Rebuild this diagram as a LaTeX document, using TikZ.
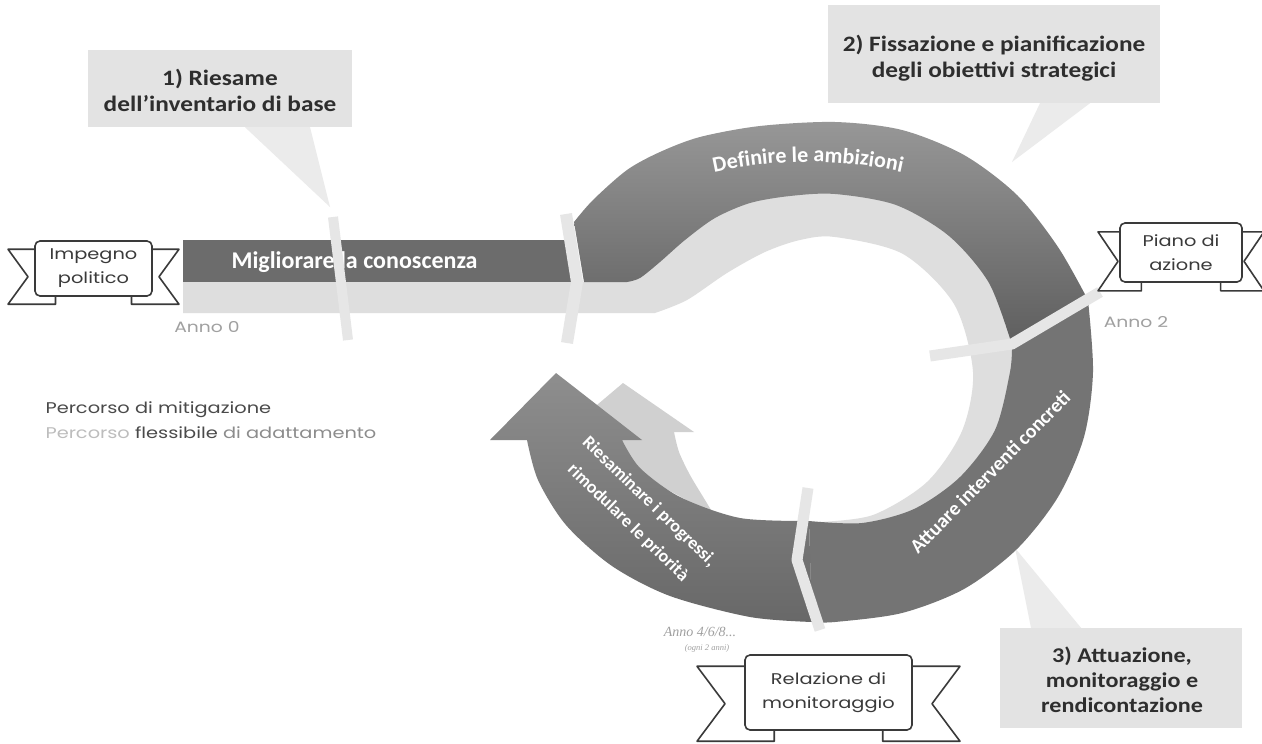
\documentclass[tikz,border=0pt]{standalone}
\usepackage{fontspec}
\setmainfont{Carlito}
\newfontfamily\callfont{Carlito}[FakeStretch=1.15]
\newfontfamily\geofont{Poppins}[FakeStretch=1.25]
\newfontfamily\serfont{Liberation Serif}
\usetikzlibrary{decorations.text}
\definecolor{boxc}{HTML}{E3E3E3}
\definecolor{tailc}{HTML}{EBEBEB}
\definecolor{lightc}{HTML}{DEDEDE}
\definecolor{gapc}{HTML}{E6E6E6}
\definecolor{barc}{HTML}{6C6C6C}
\definecolor{ringtop}{HTML}{979797}
\definecolor{ringbot}{HTML}{5E5E5E}
\definecolor{ringb}{HTML}{747474}
\definecolor{ringctop}{HTML}{8E8E8E}
\definecolor{ringcbot}{HTML}{686868}
\definecolor{lightarrow}{HTML}{D0D0D0}
\definecolor{txt}{HTML}{2E2E2E}
\definecolor{annoc}{HTML}{A0A0A0}
\definecolor{ribc}{HTML}{3A3A3A}
\definecolor{percdark}{HTML}{4A4A4A}
\definecolor{percmid}{HTML}{8C8C8C}
\definecolor{perclight}{HTML}{BDBDBD}

\newcommand{\mkribbon}[8]{%
 \draw[ribline] ({#2-0.65*#4},{#3-0.7*#5}) -- ({#2-#4-#6},{#3-0.7*#5}) -- ({#2-#4-#6+#7},{#3+0.3*#5}) -- ({#2-#4-#6},{#3+1.3*#5}) -- ({#2-0.65*#4},{#3+1.3*#5}) -- cycle;
 \draw[ribline] ({#2+0.65*#4},{#3-0.7*#5}) -- ({#2+#4+#6},{#3-0.7*#5}) -- ({#2+#4+#6-#7},{#3+0.3*#5}) -- ({#2+#4+#6},{#3+1.3*#5}) -- ({#2+0.65*#4},{#3+1.3*#5}) -- cycle;
 \node[ribbox, minimum width={2*#4}, minimum height={2*#5}] (#1) at (#2,#3) {#8};
}

\begin{document}
\begin{tikzpicture}[x=1pt,y=-1pt,
  callbox/.style={fill=boxc, draw=none, inner sep=0},
  calltext/.style={font=\callfont\bfseries\fontsize{22}{26}\selectfont, text=txt, align=center},
  ribline/.style={draw=ribc, line width=1.6, fill=white, line join=round},
  ribbox/.style={draw=ribc, line width=1.6, fill=white, rounded corners=5, inner sep=0, align=center, text=ribc, font=\geofont\fontsize{15.5}{24}\selectfont},
  gapline/.style={draw=gapc, line width=12, line join=round},
  ringtext/.style={font=\bfseries\fontsize{18}{20}\selectfont, text=white},
  annotext/.style={font=\geofont\fontsize{15}{16}\selectfont, text=annoc}]
\useasboundingbox (0,0) rectangle (1262,744);
\fill[white] (0,0) rectangle (1262,744);
\coordinate (C) at (835,372);

% callouts
\node[callbox, minimum width=264, minimum height=77] (c1) at (220,88.5) {};
\coordinate (t1) at (330,207);
\fill[tailc] ([xshift=25]c1.south) -- ([xshift=90]c1.south) -- (t1) -- cycle;
\node[calltext] (c1t) at (220,90) {1) Riesame\\dell’inventario di base};

\node[callbox, minimum width=332, minimum height=98] (c2) at (994,54) {};
\coordinate (t2) at (1012,162);
\fill[tailc] ([xshift=46]c2.south) -- ([xshift=96]c2.south) -- (t2) -- cycle;
\node[calltext] (c2t) at (994,58) {2) Fissazione e pianificazione\\degli obiettivi strategici};

\node[callbox, minimum width=242, minimum height=100] (c3) at (1121,678) {};
\coordinate (t3) at (1015,548);
\fill[tailc] ([xshift=-90]c3.north) -- ([xshift=-40]c3.north) -- (t3) -- cycle;
\node[calltext, font=\callfont\bfseries\fontsize{21}{25}\selectfont] (c3t) at (1122,680) {3) Attuazione,\\monitoraggio e\\rendicontazione};

% light (adaptation) path
\fill[lightc] (183,282) -- (600,282) -- (600,240) -- (649,264.5) arc[start angle=-150, end angle=100, radius=215] -- (819,522) -- plot[smooth] coordinates {(819,522) (873,515) (927,482) (962,431) (973,372) (954,304) (903,254) (835,237) (800,240) (765,252) (727,273) (687,300) (655,313)} -- (183,313) -- cycle;
\fill[lightarrow] (565,432) -- (623,383) -- (694,432) -- (674,432) -- plot[smooth] coordinates {(674,432) (679,452) (690,475) (705,500) (714,515)} -- (650,480) -- cycle;

% dark (mitigation) path
\fill[barc] (183,240) rectangle (572,282);
\shade[top color=ringtop, bottom color=ringbot] (574,222) -- plot[smooth] coordinates {(574,222) (593,200) (627,170) (660,152) (700,137) (760,126) (835,122) (902,130) (964,155) (1017,195) (1058,247) (1088,300)} -- (1012,345) -- plot[smooth] coordinates {(1012,345) (989,283) (949,236) (896,205) (835,194) (790,196) (750,203) (715,218) (685,240) (660,262) (640,278) (627,282)} -- (584,282) -- cycle;
\fill[ringb] (1088,300) -- plot[smooth] coordinates {(1088,300) (1093,372) (1084,437) (1058,497) (1017,549) (964,589) (902,613) (835,622) (812,622)} -- (809,521) -- plot[smooth] coordinates {(809,521) (862,523) (914,509) (960,477) (995,430) (1010,372) (1012,345)} -- cycle;
\shade[top color=ringctop, bottom color=ringcbot] (812,622) -- plot[smooth] coordinates {(812,622) (750,617) (670,596) (612,566) (566,525) (538,480) (527,440)} -- (490,440) -- (556,373) -- (642,440) -- (622,440) -- plot[smooth] coordinates {(622,440) (640,468) (680,497) (740,518) (809,521)} -- cycle;

% texts on the path
\node[ringtext, font=\bfseries\fontsize{24}{26}\selectfont, anchor=west] (mig) at (228,262) {Migliorare la conoscenza};
\path[decorate, decoration={text along path, text color=white, text align=center, text={|\bfseries\fontsize{22}{24}\selectfont|Definire le ambizioni}}] (658.2,188.4) arc[start angle=-110, end angle=-70, radius=438];
\node[ringtext, font=\bfseries\fontsize{20}{22}\selectfont, rotate=45.5] (att) at (990,472) {Attuare interventi concreti};
\node[ringtext, rotate=-44] (ries1) at (649,502) {Riesaminare i progressi,};
\node[ringtext, rotate=-44] (ries2) at (628,523) {rimodulare le priorità};

% milestone stripes
\draw[gapline, line width=10] (333,217) -- (348,340);
\draw[gapline] (566,214) -- (577,282) -- (567,343);
\draw[gapline, line width=11] (1100,292) -- (1012,344) -- (930,356);
\draw[gapline, line width=11] (808,488) -- (797,560) -- (820,630);

% ribbons
\mkribbon{imp}{93.5}{268.5}{58.5}{27.5}{27}{20}{Impegno\\politico}
\mkribbon{piano}{1181}{252.5}{61}{29.5}{22}{20}{Piano di\\azione}
\mkribbon{rel}{828.5}{692.5}{83.5}{37.5}{48}{28}{Relazione di\\monitoraggio}

% year labels
\node[annotext] (a0) at (207,327) {Anno 0};
\node[annotext] (a2) at (1136,322) {Anno 2};
\node[font=\serfont\itshape\fontsize{14}{15}\selectfont, text=annoc] (a4) at (700,632) {Anno 4/6/8...};
\node[font=\serfont\itshape\fontsize{8.5}{9}\selectfont, text=annoc] (a4b) at (707,648) {(ogni 2 anni)};

% legend
\node[anchor=west, font=\geofont\fontsize{15.5}{17}\selectfont, text=percdark] (p1) at (42,410) {Percorso di mitigazione};
\node[anchor=west, font=\geofont\fontsize{15.5}{17}\selectfont, text=percmid] (p2) at (42,433) {\textcolor{perclight}{Percorso} \textcolor{percdark}{flessibile} di adattamento};
\end{tikzpicture}
\end{document}
